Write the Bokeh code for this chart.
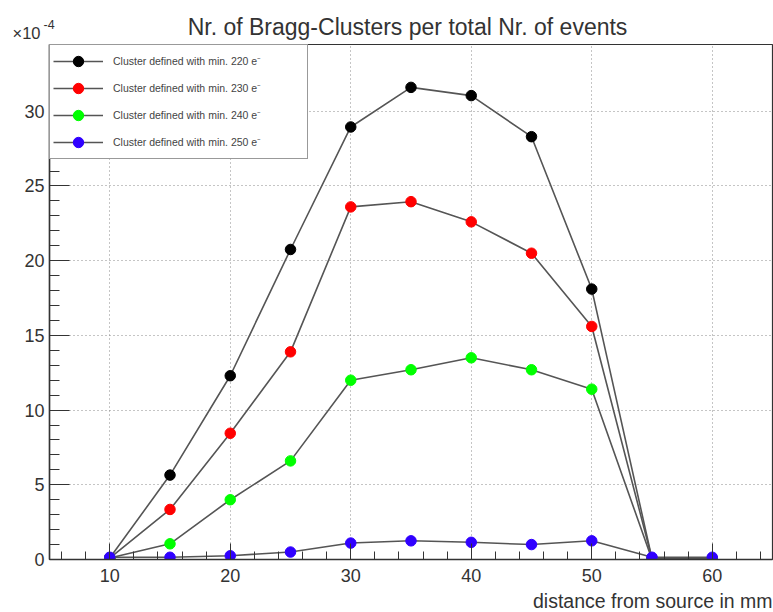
from bokeh.plotting import figure
from bokeh.models import Range1d, SingleIntervalTicker, Label, Legend, LegendItem
from bokeh.embed import file_html
from bokeh.resources import INLINE

# distance from source (mm) and Bragg-cluster rate per event, in units of 1e-4
distance_mm = [10, 15, 20, 25, 30, 35, 40, 45, 50, 55, 60]
clusters_220 = [0.1, 5.65, 12.3, 20.75, 28.95, 31.6, 31.05, 28.3, 18.1, 0.05, 0.05]
clusters_230 = [0.1, 3.35, 8.45, 13.9, 23.6, 23.95, 22.6, 20.5, 15.6, 0.05, 0.05]
clusters_240 = [0.1, 1.05, 4.0, 6.6, 12.0, 12.7, 13.5, 12.7, 11.4, 0.0, 0.0]
clusters_250 = [0.15, 0.15, 0.25, 0.5, 1.1, 1.25, 1.15, 1.0, 1.25, 0.15, 0.15]

series_labels = [
    "Cluster defined with min. 220 e\u207b",
    "Cluster defined with min. 230 e\u207b",
    "Cluster defined with min. 240 e\u207b",
    "Cluster defined with min. 250 e\u207b",
]
series_colors = ["#000000", "#ff0000", "#00ff00", "#3000ff"]

title_text = "Nr. of Bragg-Clusters per total Nr. of events"
x_title = "distance from source in mm"

FONT = "Liberation Sans"
TEXT = "#333333"

p = figure(
    width=773, height=612, title=None,
    x_range=Range1d(5, 65), y_range=Range1d(0, 34.47),
    output_backend="svg", toolbar_location=None,
    min_border_left=49, min_border_right=1,
    min_border_top=42, min_border_bottom=53,
)
p.background_fill_color = "white"
p.border_fill_color = "white"
p.outline_line_color = "#333333"
p.outline_line_width = 1.2

xt = SingleIntervalTicker(interval=10, num_minor_ticks=5)
yt = SingleIntervalTicker(interval=5, num_minor_ticks=5)
p.xaxis.ticker = xt
p.yaxis.ticker = yt
p.xgrid.ticker = xt
p.ygrid.ticker = yt

for ax in (p.xaxis, p.yaxis):
    ax.axis_line_color = "#333333"
    ax.axis_line_width = 1.5
    ax.major_tick_line_color = "#333333"
    ax.minor_tick_line_color = "#333333"
    ax.major_tick_out = 0
    ax.minor_tick_out = 0
    ax.major_label_text_font = FONT
    ax.major_label_text_font_size = "18px"
    ax.major_label_text_color = TEXT

p.xaxis.major_tick_in = 16
p.xaxis.minor_tick_in = 8
p.xaxis.major_label_standoff = 9
p.yaxis.major_tick_in = 20
p.yaxis.minor_tick_in = 10
p.yaxis.major_label_standoff = 5

for g in (p.xgrid, p.ygrid):
    g.grid_line_color = "#8a8a8a"
    g.grid_line_dash = "1 3"
    g.grid_line_width = 1

all_series = [clusters_220, clusters_230, clusters_240, clusters_250]
items = []
for vals, color, lab in zip(all_series, series_colors, series_labels):
    ln = p.line(distance_mm, vals, line_color="#555555", line_width=1.6)
    sc = p.scatter(distance_mm, vals, marker="circle", size=10.5,
                   fill_color=color, line_color=color)
    items.append(LegendItem(label=lab, renderers=[ln, sc]))

legend = Legend(
    items=items, location="top_left", margin=0, padding=3, spacing=1,
    glyph_width=50, glyph_height=26, label_height=26, label_standoff=10,
    label_width=191,
    label_text_font=FONT, label_text_font_size="10.5px", label_text_color="#444444",
    border_line_color="#333333", border_line_width=1.2,
    background_fill_color="white", background_fill_alpha=1.0,
)
p.add_layout(legend, "center")


def canvas_label(x, y, text, size, align):
    return Label(x=x, y=y, x_units="canvas", y_units="canvas", text=text,
                 text_align=align, text_baseline="alphabetic",
                 text_font=FONT, text_font_size=size, text_color=TEXT)


# texts around the frame, placed in canvas pixels (origin top-left)
p.add_layout(canvas_label(407, 26, title_text, "23px", "center"), "above")
p.add_layout(canvas_label(12, 32, "\u00d710", "16.5px", "left"), "above")
p.add_layout(canvas_label(43, 24, "-4", "12.5px", "left"), "left")
p.add_layout(canvas_label(772, 600, x_title, "19.5px", "right"), "below")

open("out.html", "w").write(file_html(p, INLINE))
